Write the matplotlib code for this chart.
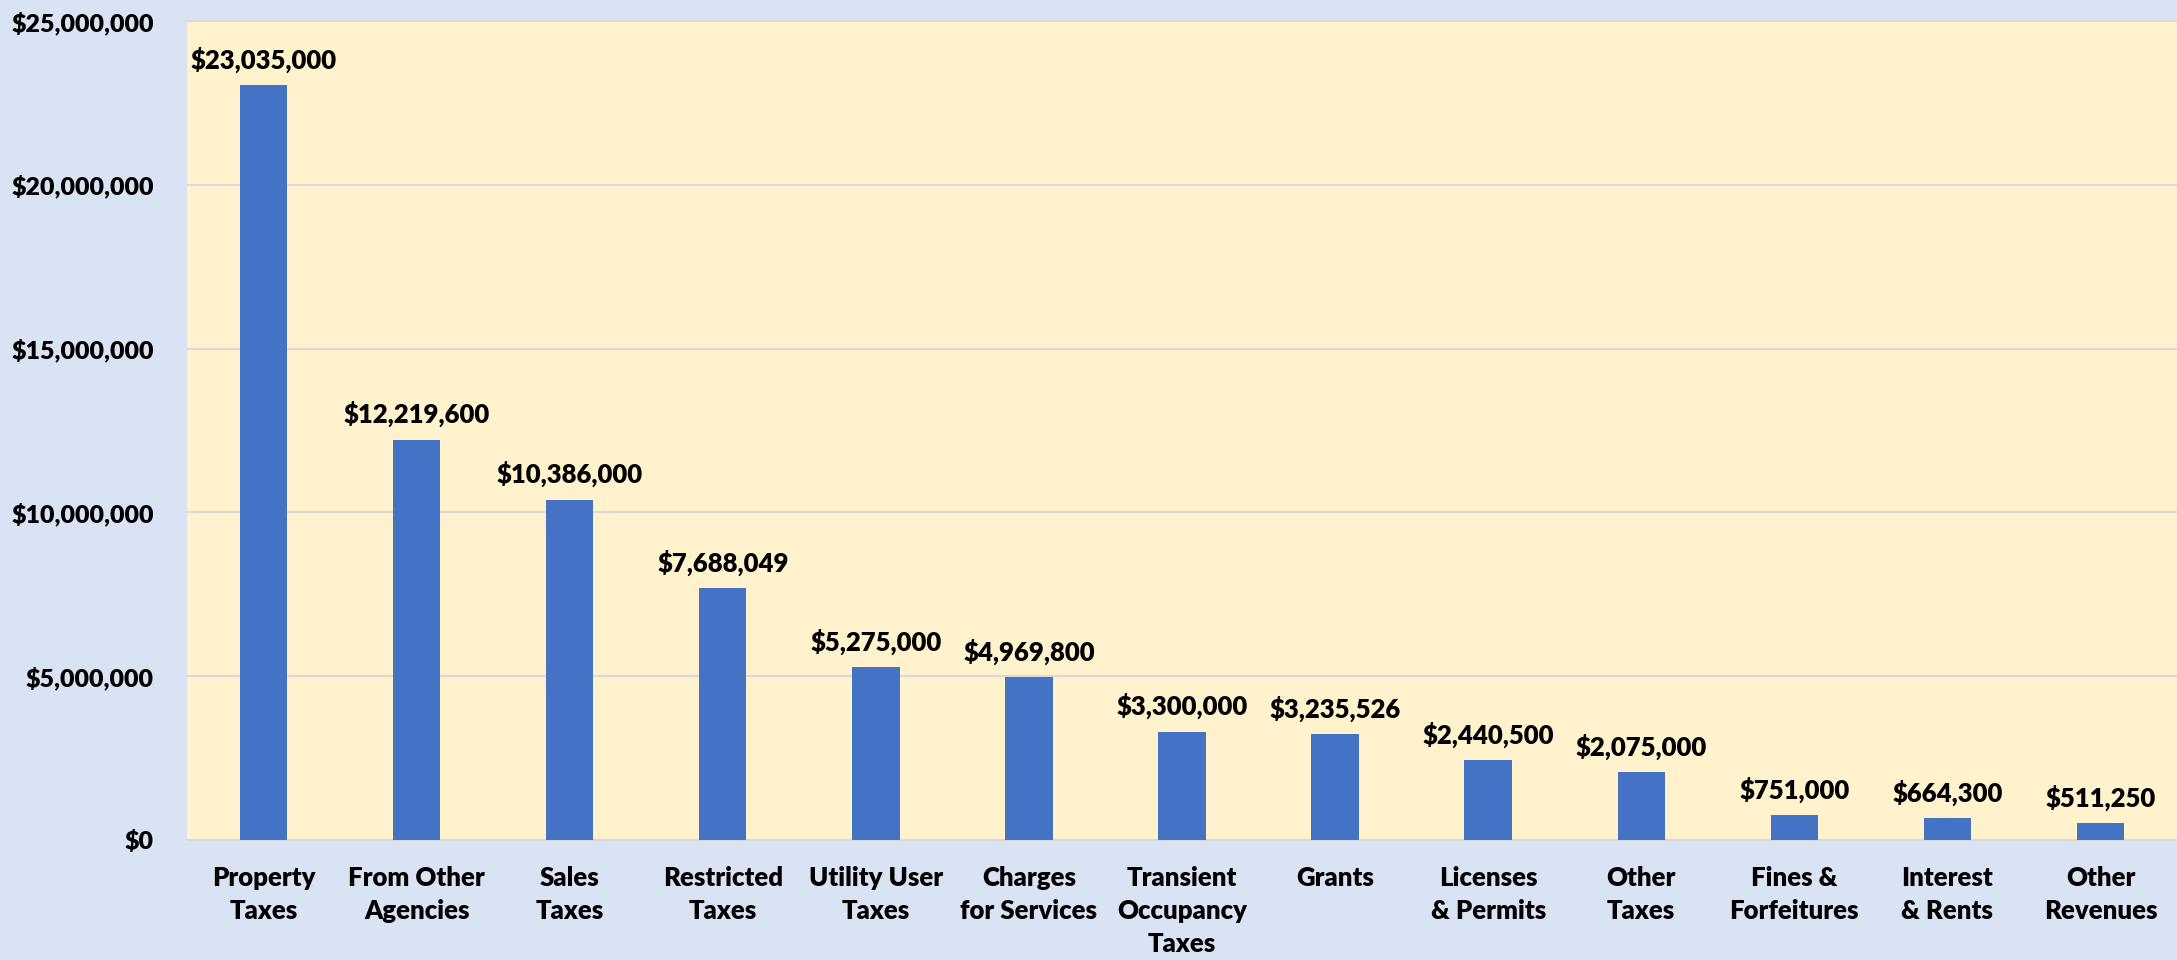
import numpy as np
from matplotlib import pyplot as plt
from matplotlib.ticker import FuncFormatter, MultipleLocator

categories = ["Property\nTaxes", "From Other\nAgencies", "Sales\nTaxes", "Restricted\nTaxes",
              "Utility User\nTaxes", "Charges\nfor Services", "Transient\nOccupancy\nTaxes",
              "Grants", "Licenses\n& Permits", "Other\nTaxes", "Fines &\nForfeitures",
              "Interest\n& Rents", "Other\nRevenues"]
revenues = [23035000, 12219600, 10386000, 7688049, 5275000, 4969800, 3300000,
            3235526, 2440500, 2075000, 751000, 664300, 511250]

plt.rcParams['font.family'] = ['Lato', 'DejaVu Sans']
plt.rcParams['font.weight'] = 'heavy'
fw = 'heavy'

fig = plt.figure(figsize=(21.77, 9.6), dpi=100, facecolor='#DAE3F3')
ax = fig.add_axes([187/2177, 1-840/960, 1-187/2177, (840-21)/960])
ax.set_facecolor('#FFF2CC')

x = np.arange(len(categories))
bars = ax.bar(x, revenues, width=0.31, color='#4472C4', zorder=3)

for xi, v in zip(x, revenues):
    ax.annotate("${:,.0f}".format(v), (xi, v), xytext=(0, 9), textcoords='offset points',
                ha='center', va='bottom', fontsize=18.5, fontweight=fw, color='black')

ax.set_xlim(-0.5, len(categories)-0.5)
ax.set_ylim(0, 25000000)
ax.yaxis.set_major_locator(MultipleLocator(5000000))
ax.yaxis.set_major_formatter(FuncFormatter(lambda v, p: "${:,.0f}".format(v)))
ax.grid(axis='y', color='#D9D9D9', linewidth=1.5, zorder=0)
ax.set_axisbelow(True)

for s in ['left', 'right']:
    ax.spines[s].set_visible(False)
ax.spines['top'].set_color('#D9D9D9')
ax.spines['top'].set_linewidth(1.5)
ax.spines['bottom'].set_color('#D9D9D9')
ax.spines['bottom'].set_linewidth(1.5)

ax.set_xticks(x)
ax.set_xticklabels(categories, fontsize=18.5, fontweight=fw, linespacing=1.45)
ax.tick_params(axis='x', length=0, pad=19)
ax.tick_params(axis='y', length=0, pad=24, labelsize=18)
for t in ax.get_yticklabels():
    t.set_fontweight(fw)

fig.savefig("out.png", dpi=100, facecolor=fig.get_facecolor())
